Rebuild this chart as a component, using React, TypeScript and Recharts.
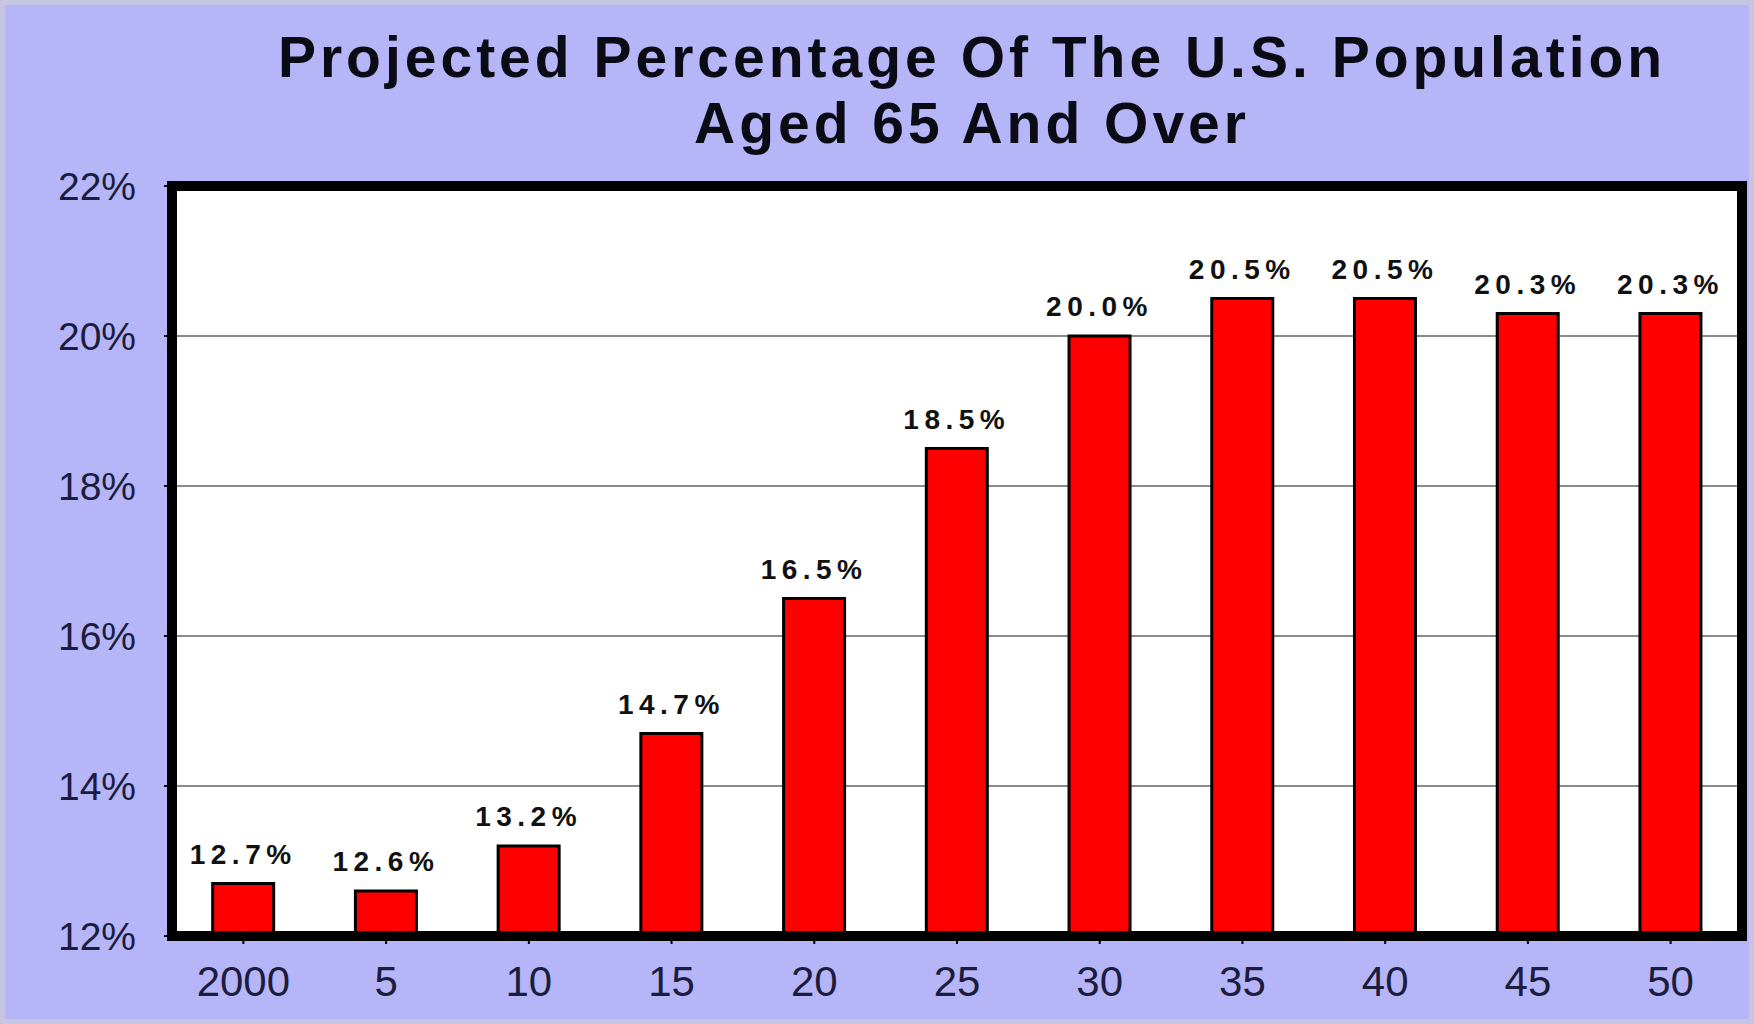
import { BarChart, Bar, XAxis, YAxis, CartesianGrid, LabelList } from 'recharts'

const YEARS = ['2000', '5', '10', '15', '20', '25', '30', '35', '40', '45', '50']
const SHARE_65 = [12.7, 12.6, 13.2, 14.7, 16.5, 18.5, 20.0, 20.5, 20.5, 20.3, 20.3]
const Y_TICKS = [12, 14, 16, 18, 20, 22]

const BG = '#b5b5f7'
const INK = '#1c1c3e'

const data = YEARS.map((year, i) => ({ year, value: SHARE_65[i] }))

// thick black frame round the plot
const frame = { stroke: '#000', strokeWidth: 10, strokeLinecap: 'square' as const }

export default function App() {
  return (
    <div
      style={{
        position: 'absolute',
        left: 0,
        top: 0,
        width: 1754,
        height: 1024,
        boxSizing: 'border-box',
        background: BG,
        border: '5px solid #c6c6e4',
        fontFamily: '"Liberation Sans", Arial, sans-serif',
      }}
    >
      <div
        style={{
          position: 'absolute',
          left: 0,
          top: 19,
          width: 1744,
          boxSizing: 'border-box',
          paddingLeft: 190,
          textAlign: 'center',
          fontWeight: 'bold',
          fontSize: 57,
          letterSpacing: 4,
          lineHeight: '66px',
          color: '#0b0b16',
        }}
      >
        Projected Percentage Of The U.S. Population
        <br />
        Aged 65 And Over
      </div>
      <div style={{ position: 'absolute', left: -5, top: -5 }}>
        <BarChart
          width={1754}
          height={1024}
          data={data}
          margin={{ top: 185, right: 11, bottom: 0, left: 0 }}
          barCategoryGap="28.5%"
        >
          <CartesianGrid vertical={false} stroke="#8a8a8a" strokeWidth={2} fill="#fff" />
          <XAxis
            dataKey="year"
            height={88}
            axisLine={frame}
            tickLine={{ stroke: '#000', strokeWidth: 2 }}
            tickSize={8}
            tickMargin={22}
            interval={0}
            tick={{ fill: INK, fontSize: 42 }}
          />
          <XAxis xAxisId="top" orientation="top" height={1} tick={false} tickLine={false} axisLine={frame} />
          <YAxis
            domain={[12, 22]}
            ticks={Y_TICKS}
            width={172}
            axisLine={frame}
            tickLine={{ stroke: '#000', strokeWidth: 2 }}
            tickSize={8}
            tickMargin={28}
            tickFormatter={(v) => `${v}%`}
            tick={{ fill: INK, fontSize: 39 }}
          />
          <YAxis
            yAxisId="right"
            orientation="right"
            domain={[12, 22]}
            width={1}
            tick={false}
            tickLine={false}
            axisLine={frame}
          />
          <Bar dataKey="value" fill="#ff0000" stroke="#000" strokeWidth={3} isAnimationActive={false}>
            <LabelList
              dataKey="value"
              position="top"
              offset={20}
              formatter={(v: number) => `${v.toFixed(1)}%`}
              fill="#111"
              fontSize={28}
              fontWeight="bold"
              letterSpacing={5.5}
            />
          </Bar>
        </BarChart>
      </div>
    </div>
  )
}
